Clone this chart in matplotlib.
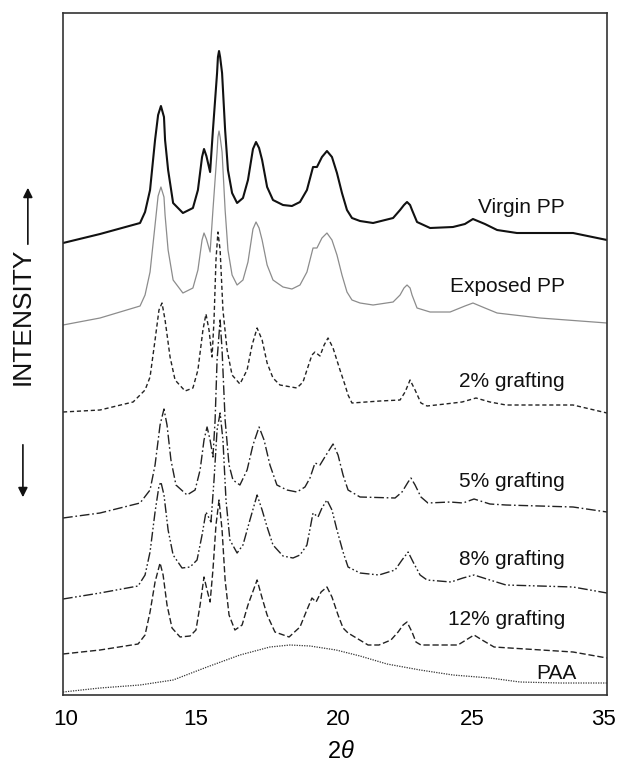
import matplotlib

matplotlib.use("Agg")

import matplotlib.pyplot as plt
from matplotlib.patches import FancyArrowPatch

plt.rcParams["font.family"] = ["Liberation Sans", "DejaVu Sans"]
plt.rcParams["mathtext.fontset"] = "custom"
plt.rcParams["mathtext.rm"] = "Liberation Sans"
plt.rcParams["mathtext.it"] = "Liberation Sans:italic"

# diffraction patterns, stacked (arbitrary intensity units, offsets included)
virgin_x = [10.00, 11.70, 13.54, 13.77, 14.00, 14.23, 14.37, 14.50, 14.64, 14.69, 14.83, 15.06,
            15.51, 15.97, 16.20, 16.39, 16.48, 16.59, 16.76, 16.89, 17.08, 17.12, 17.17, 17.22,
            17.31, 17.45, 17.58, 17.77, 18.00, 18.27, 18.50, 18.73, 18.87, 19.01, 19.15, 19.38,
            19.65, 20.11, 20.52, 20.89, 21.21, 21.49, 21.67, 21.90, 22.13, 22.36, 22.59, 22.82,
            23.05, 23.28, 23.65, 24.25, 25.17, 25.49, 25.67, 25.81, 25.95, 26.04, 26.27, 26.87,
            27.92, 28.47, 28.84, 29.39, 29.95, 30.86, 33.44, 35.00]
virgin_y = [452, 461, 472, 483, 505, 555, 580, 589, 578, 555, 525, 492,
            482, 487, 505, 538, 546, 539, 523, 565, 622, 638, 644, 638,
            622, 565, 525, 502, 492, 497, 515, 546, 553, 547, 535, 508,
            495, 490, 489, 493, 505, 528, 528, 538, 544, 538, 522, 502,
            485, 477, 474, 472, 477, 485, 490, 493, 490, 485, 473, 467,
            468, 471, 476, 471, 465, 462, 462, 455]

exposed_x = [10.00, 11.70, 13.54, 13.77, 14.00, 14.23, 14.37, 14.50, 14.64, 14.69, 14.83, 15.06,
             15.51, 15.97, 16.20, 16.39, 16.48, 16.59, 16.76, 16.89, 17.08, 17.12, 17.17, 17.22,
             17.31, 17.45, 17.58, 17.77, 18.00, 18.27, 18.50, 18.73, 18.87, 19.01, 19.15, 19.38,
             19.65, 20.11, 20.52, 20.89, 21.21, 21.49, 21.67, 21.90, 22.13, 22.36, 22.59, 22.82,
             23.05, 23.28, 23.65, 24.25, 25.17, 25.49, 25.67, 25.81, 25.95, 26.04, 26.27, 26.87,
             27.79, 28.47, 28.84, 29.39, 29.95, 31.92, 35.00]
exposed_y = [370, 377, 389, 400, 423, 470, 499, 508, 498, 480, 445, 415,
             402, 407, 425, 455, 462, 456, 443, 485, 543, 558, 564, 558,
             543, 485, 445, 420, 410, 415, 433, 466, 473, 467, 455, 430,
             415, 408, 406, 410, 423, 447, 447, 457, 462, 455, 440, 420,
             403, 395, 392, 390, 393, 400, 407, 410, 407, 400, 387, 383,
             383, 389, 392, 387, 382, 377, 372]

g2_x = [10.00, 11.70, 13.22, 13.77, 14.00, 14.23, 14.41, 14.55, 14.69, 14.92, 15.15, 15.61,
        15.97, 16.20, 16.43, 16.57, 16.71, 16.85, 16.94, 17.03, 17.12, 17.22, 17.35, 17.54,
        17.77, 18.13, 18.46, 18.69, 18.92, 19.15, 19.38, 19.65, 19.97, 20.75, 21.03, 21.21,
        21.44, 21.58, 21.81, 22.00, 22.18, 22.41, 22.73, 22.96, 23.10, 23.28, 24.57, 25.49,
        25.72, 25.95, 26.18, 26.45, 26.73, 27.56, 28.34, 28.98, 29.62, 30.36, 33.44, 35.00]
g2_y = [283, 285, 293, 305, 318, 355, 385, 392, 375, 338, 315, 304,
        307, 325, 365, 381, 365, 338, 375, 435, 463, 445, 385, 345,
        320, 311, 325, 350, 367, 355, 332, 317, 310, 307, 313, 325,
        340, 343, 339, 350, 357, 347, 325, 310, 300, 292, 294, 295,
        303, 315, 305, 292, 289, 291, 293, 297, 293, 290, 290, 282]

g5_x = [10.00, 11.70, 13.54, 14.00, 14.23, 14.46, 14.64, 14.78, 14.96, 15.19, 15.70, 16.07,
        16.30, 16.48, 16.62, 16.76, 16.89, 16.99, 17.08, 17.22, 17.31, 17.45, 17.63, 17.81,
        18.13, 18.46, 18.73, 19.01, 19.24, 19.51, 19.83, 20.29, 20.75, 21.12, 21.35, 21.58,
        21.81, 22.09, 22.41, 22.64, 22.87, 23.10, 23.65, 25.26, 25.58, 25.86, 25.99, 26.18,
        26.45, 26.77, 27.79, 28.38, 28.89, 29.62, 30.36, 33.44, 35.00]
g5_y = [177, 182, 192, 205, 230, 270, 286, 270, 235, 210, 200, 205,
        225, 255, 268, 255, 238, 275, 335, 375, 345, 275, 230, 215,
        210, 225, 250, 268, 255, 230, 210, 205, 203, 208, 217, 232,
        230, 240, 251, 240, 220, 205, 198, 197, 203, 213, 217, 210,
        198, 192, 193, 192, 196, 191, 190, 188, 183]

g8_x = [10.00, 11.70, 13.45, 13.77, 14.00, 14.23, 14.41, 14.50, 14.64, 14.83, 15.06, 15.47,
        15.84, 16.16, 16.39, 16.57, 16.71, 16.80, 16.94, 17.08, 17.22, 17.35, 17.49, 17.67,
        18.00, 18.27, 18.59, 18.92, 19.15, 19.38, 19.65, 20.11, 20.57, 20.89, 21.21, 21.49,
        21.72, 21.90, 22.13, 22.36, 22.59, 22.87, 23.10, 23.65, 24.52, 25.26, 25.58, 25.86,
        26.09, 26.41, 26.73, 27.83, 28.38, 28.89, 29.62, 30.36, 33.44, 35.00]
g8_y = [96, 102, 109, 120, 143, 183, 209, 213, 200, 165, 140, 127,
        128, 135, 160, 183, 177, 173, 215, 265, 282, 255, 195, 155,
        142, 150, 175, 200, 185, 168, 150, 139, 137, 140, 150, 182,
        178, 187, 195, 185, 165, 143, 128, 122, 120, 125, 135, 143,
        133, 120, 115, 113, 117, 120, 115, 110, 108, 102]

g12_x = [10.00, 11.70, 13.45, 13.77, 14.00, 14.23, 14.46, 14.60, 14.78, 15.01, 15.38, 15.84,
         16.11, 16.30, 16.48, 16.62, 16.76, 16.89, 17.03, 17.17, 17.31, 17.45, 17.63, 17.90,
         18.23, 18.50, 18.92, 19.15, 19.38, 19.74, 20.39, 20.89, 21.17, 21.44, 21.63, 21.86,
         22.13, 22.36, 22.64, 22.87, 23.10, 24.02, 24.52, 25.07, 25.40, 25.63, 25.81, 26.04,
         26.22, 26.45, 28.15, 28.52, 28.89, 29.26, 29.81, 33.44, 35.00]
g12_y = [41, 45, 51, 60, 83, 113, 132, 120, 90, 67, 58, 59,
         65, 90, 118, 105, 93, 125, 170, 195, 165, 115, 80, 65,
         70, 90, 115, 97, 80, 63, 58, 68, 83, 97, 93, 103,
         108, 98, 80, 67, 62, 50, 50, 55, 63, 70, 73, 63,
         53, 50, 50, 55, 60, 55, 48, 43, 37]

paa_x = [10.00, 11.70, 13.54, 15.06, 16.62, 18.13, 19.51, 20.43, 21.35, 22.55, 23.65, 24.89,
         26.41, 27.92, 29.62, 31.00, 32.84, 35.00]
paa_y = [3, 7, 10, 15, 28, 40, 48, 50, 49, 45, 39, 31,
         25, 20, 17, 13, 12, 12]

labels = ["Virgin PP", "Exposed PP", "2% grafting", "5% grafting", "8% grafting",
          "12% grafting", "PAA"]
label_x = [33.07, 33.07, 33.07, 33.07, 33.07, 33.07, 33.62]
label_y = [482, 403, 308, 208, 130, 70, 16]

tick_pos = [10.11, 16.11, 22.64, 28.80, 34.86]
tick_labels = ["10", "15", "20", "25", "35"]

fig = plt.figure(figsize=(6.19, 7.65), dpi=100)
ax = fig.add_axes([0.1018, 0.0915, 0.8788, 0.8915])

ax.plot(virgin_x, virgin_y, color="#111111", lw=1.5)
ax.plot(exposed_x, exposed_y, color="#8c8c8c", lw=0.9)
ax.plot(g2_x, g2_y, color="#222222", lw=1.0, ls=(0, (3, 2)))
ax.plot(g5_x, g5_y, color="#222222", lw=1.0, ls=(0, (7, 2, 1.2, 2)))
ax.plot(g8_x, g8_y, color="#222222", lw=1.0, ls=(0, (7, 1.8, 1.2, 1.8, 1.2, 1.8)))
ax.plot(g12_x, g12_y, color="#222222", lw=1.0, ls=(0, (4.5, 2)))
ax.plot(paa_x, paa_y, color="#333333", lw=0.9, ls=(0, (1, 1)))

for text, tx, ty in zip(labels, label_x, label_y):
    ax.text(tx, ty, text, ha="right", va="baseline", fontsize=15, color="#111111")

ax.set_xlim(10, 35)
ax.set_ylim(0, 682)
ax.set_yticks([])
ax.set_xticks(tick_pos)
ax.set_xticklabels(tick_labels)
ax.tick_params(axis="x", length=0, pad=10, labelsize=16)
for spine in ax.spines.values():
    spine.set_linewidth(1.2)
    spine.set_color("#333333")

ax.set_xlabel(r"2$\it{\theta}$", fontsize=17, labelpad=12)
ax.xaxis.set_label_coords(0.511, -0.068)

# y label with arrows
fig.text(0.036, 1 - 316 / 765, "INTENSITY", rotation=90, ha="center", va="center",
         fontsize=19, color="#111111")
fig.add_artist(FancyArrowPatch((0.045, 1 - 247 / 765), (0.045, 1 - 185 / 765),
                               transform=fig.transFigure, arrowstyle="-|>",
                               mutation_scale=14, lw=1.2, color="#111111"))
fig.add_artist(FancyArrowPatch((0.037, 1 - 442 / 765), (0.037, 1 - 500 / 765),
                               transform=fig.transFigure, arrowstyle="-|>",
                               mutation_scale=14, lw=1.2, color="#111111"))

fig.savefig("out.png", dpi=100)
